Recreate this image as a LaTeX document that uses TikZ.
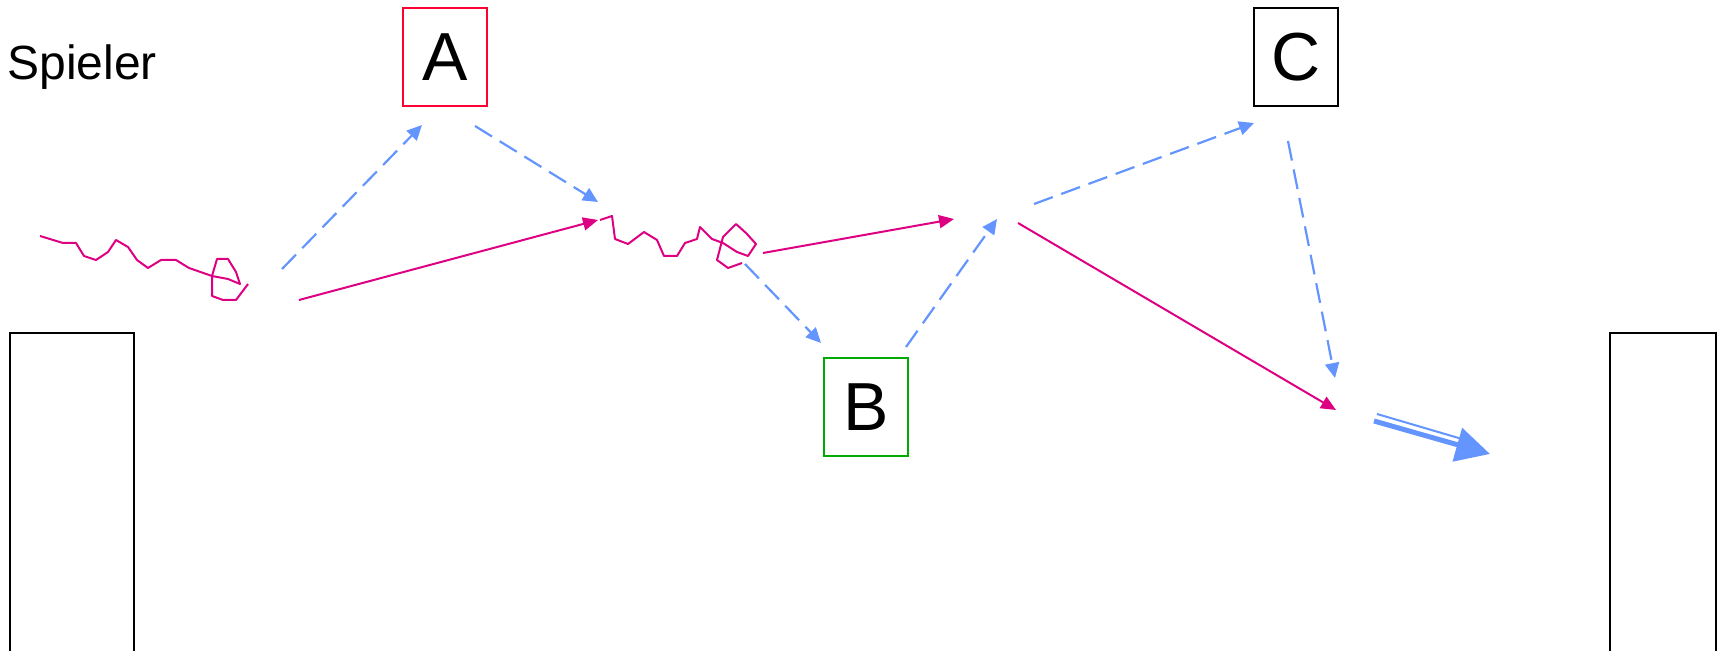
\documentclass[tikz,border=0pt]{standalone}
\usepackage{fontspec}
\setmainfont{Liberation Sans}
\usepackage{tikz}
\usetikzlibrary{arrows.meta}
\definecolor{passblue}{RGB}{100,149,255}
\definecolor{runred}{RGB}{222,0,130}
\definecolor{markred}{RGB}{255,0,51}
\definecolor{markgreen}{RGB}{0,170,0}

\tikzset{
    player/.style={draw, line width=1pt, minimum width=42pt, minimum height=49pt, inner sep=0pt, font=\fontsize{34}{34}\selectfont},
    pass/.style={passblue, line width=1.1pt, dash pattern=on 10pt off 4.5pt, -{Triangle[length=7.5pt,width=7pt]}},
    run/.style={runred, line width=1pt, -{Triangle[length=7.5pt,width=6.5pt]}},
    dribble/.style={runred, line width=1pt, line join=round},
    goal/.style={line width=1pt}
}

\begin{document}
\begin{tikzpicture}[x=0.5pt, y=-0.5pt]
    \useasboundingbox (0,0) rectangle (1728,651);

    % Label and players
    \node[anchor=base west, font=\fontsize{24}{24}\selectfont, inner sep=0pt] (spieler) at (7,80) {Spieler};
    \node[player, draw=markred] (A) at (445,57) {A};
    \node[player, draw=markgreen] (B) at (866,407) {B};
    \node[player, draw=black] (C) at (1296,57) {C};

    % Goals
    \draw[goal] (10,660) -- (10,333) -- (134,333) -- (134,660);
    \draw[goal] (1610,660) -- (1610,333) -- (1716,333) -- (1716,660);

    % Dribbling
    \draw[dribble] (40,236) -- (63,243) -- (76,243) -- (84,256) -- (96,260) -- (108,252)
        -- (116,240) -- (128,247) -- (137,260) -- (148,268) -- (161,260) -- (176,260)
        -- (189,268) -- (212,276) -- (228,279) -- (240,284) -- (236,272) -- (228,259)
        -- (217,259) -- (212,276) -- (212,296) -- (223,300) -- (236,300) -- (248,284);
    \draw[dribble] (600,220) -- (612,216) -- (615,239) -- (628,244) -- (644,232) -- (657,240)
        -- (664,256) -- (677,256) -- (685,243) -- (697,239) -- (700,227) -- (712,239)
        -- (723,243) -- (737,252) -- (748,256) -- (756,244) -- (746,233) -- (736,224)
        -- (723,237) -- (717,260) -- (728,268) -- (742,263);

    % Passes and runs
    \coordinate (p1s) at (282,269);  \coordinate (p1e) at (422,125);
    \coordinate (p2s) at (475,126);  \coordinate (p2e) at (598,202);
    \coordinate (r1s) at (299,300);  \coordinate (r1e) at (598,220);
    \coordinate (r2s) at (763,253);  \coordinate (r2e) at (954,219);
    \coordinate (p3s) at (745,264);  \coordinate (p3e) at (821,343);
    \coordinate (p4s) at (906,347);  \coordinate (p4e) at (997,219);
    \coordinate (p5s) at (1034,204); \coordinate (p5e) at (1254,123);
    \coordinate (p6s) at (1288,141); \coordinate (p6e) at (1335,378);
    \coordinate (r3s) at (1018,223); \coordinate (r3e) at (1336,410);

    \draw[pass] (p1s) -- (p1e);
    \draw[pass] (p2s) -- (p2e);
    \draw[run] (r1s) -- (r1e);
    \draw[run] (r2s) -- (r2e);
    \draw[pass] (p3s) -- (p3e);
    \draw[pass] (p4s) -- (p4e);
    \draw[pass] (p5s) -- (p5e);
    \draw[pass] (p6s) -- (p6e);
    \draw[run] (r3s) -- (r3e);

    % Shot on goal
    \coordinate (shotS) at (1374,421);  \coordinate (shotE) at (1490,454);
    \coordinate (shotS2) at (1377,414); \coordinate (shotE2) at (1462,439);
    \draw[passblue, line width=1pt] (shotS2) -- (shotE2);
    \draw[passblue, line width=2.5pt, -{Triangle[length=17pt,width=17pt]}] (shotS) -- (shotE);
\end{tikzpicture}
\end{document}
